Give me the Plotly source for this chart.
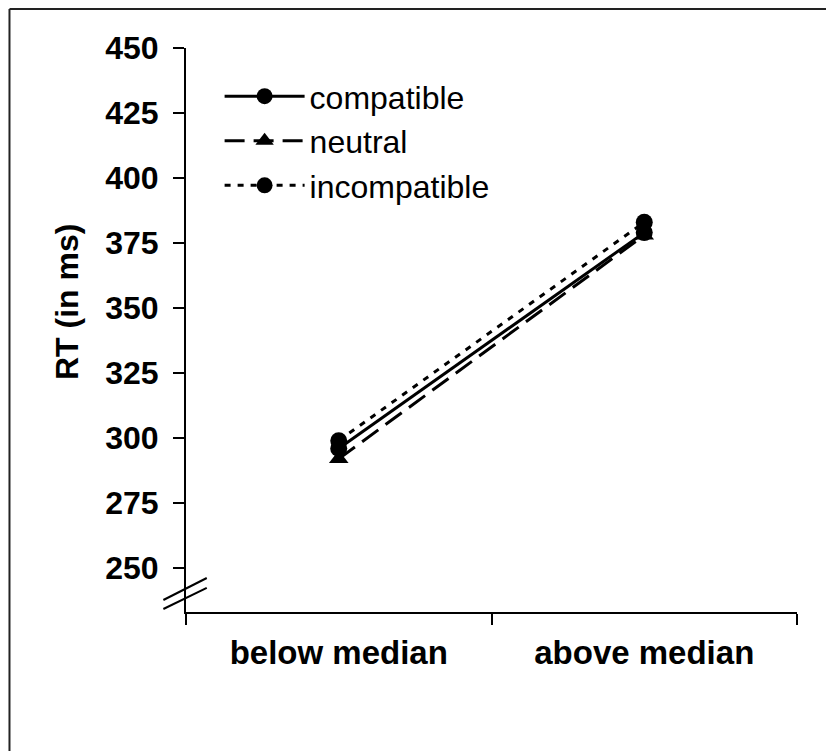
import plotly.graph_objects as go

# dados
grupos = ["below median", "above median"]
compatible = [296, 379]
neutral = [292, 378]
incompatible = [299, 383]
y_ticks = [250, 275, 300, 325, 350, 375, 400, 425, 450]

FONTE = "Liberation Sans, Arial, sans-serif"

fig = go.Figure()

fig.add_trace(go.Scatter(
    x=grupos, y=compatible, name="compatible", mode="lines+markers",
    line=dict(color="black", width=3, dash="solid"),
    marker=dict(symbol="circle", size=17, color="black"),
))
fig.add_trace(go.Scatter(
    x=grupos, y=neutral, name="neutral", mode="lines+markers",
    line=dict(color="black", width=3, dash="20px,9px"),
    marker=dict(symbol="triangle-up", size=17, color="black"),
))
fig.add_trace(go.Scatter(
    x=grupos, y=incompatible, name="incompatible", mode="lines+markers",
    line=dict(color="black", width=3, dash="6px,7px"),
    marker=dict(symbol="circle", size=17, color="black"),
))

# moldura (só topo e esquerda visíveis)
fig.add_shape(type="line", xref="paper", yref="paper",
              x0=-0.2889, y0=1.0691, x1=1.3, y1=1.0691,
              line=dict(color="#222", width=2))
fig.add_shape(type="line", xref="paper", yref="paper",
              x0=-0.2889, y0=1.0691, x1=-0.2889, y1=-0.3,
              line=dict(color="#222", width=2))

# quebra do eixo y
for y0, y1 in [(0.0213, 0.0603), (0.0053, 0.0426)]:
    fig.add_shape(type="line", xref="paper", yref="paper",
                  x0=-0.037, y0=y0, x1=0.034, y1=y1,
                  line=dict(color="black", width=2))

# título do eixo y
fig.add_annotation(
    text="RT (in ms)", xref="paper", yref="paper", x=-0.1948, y=0.5496,
    xanchor="center", yanchor="middle",
    textangle=-90, showarrow=False,
    font=dict(family=FONTE, size=32, color="black", weight="bold"),
)

fig.update_xaxes(
    type="category", categoryorder="array", categoryarray=grupos,
    range=[-0.5, 1.5], tickson="boundaries",
    showline=True, linecolor="black", linewidth=2,
    ticks="outside", ticklen=11, tickwidth=2, tickcolor="black",
    showgrid=False, zeroline=False, ticklabelstandoff=10,
    tickfont=dict(family=FONTE, size=33, color="black", weight="bold"),
)
fig.update_yaxes(
    range=[233.1, 450], tickvals=y_ticks,
    showline=True, linecolor="black", linewidth=2,
    ticks="outside", ticklen=11, tickwidth=2, tickcolor="black",
    showgrid=False, zeroline=False, ticklabelstandoff=8,
    tickfont=dict(family=FONTE, size=32, color="black", weight="bold"),
)

fig.update_layout(
    width=834, height=751,
    margin=dict(l=178, r=45, t=40, b=147),
    paper_bgcolor="white", plot_bgcolor="white",
    font=dict(family=FONTE, color="black"),
    legend=dict(
        x=0.055, y=0.963, xanchor="left", yanchor="top",
        font=dict(family=FONTE, size=32, color="black"),
        itemwidth=80, bgcolor="rgba(0,0,0,0)",
    ),
)

fig.write_html("out.html")
